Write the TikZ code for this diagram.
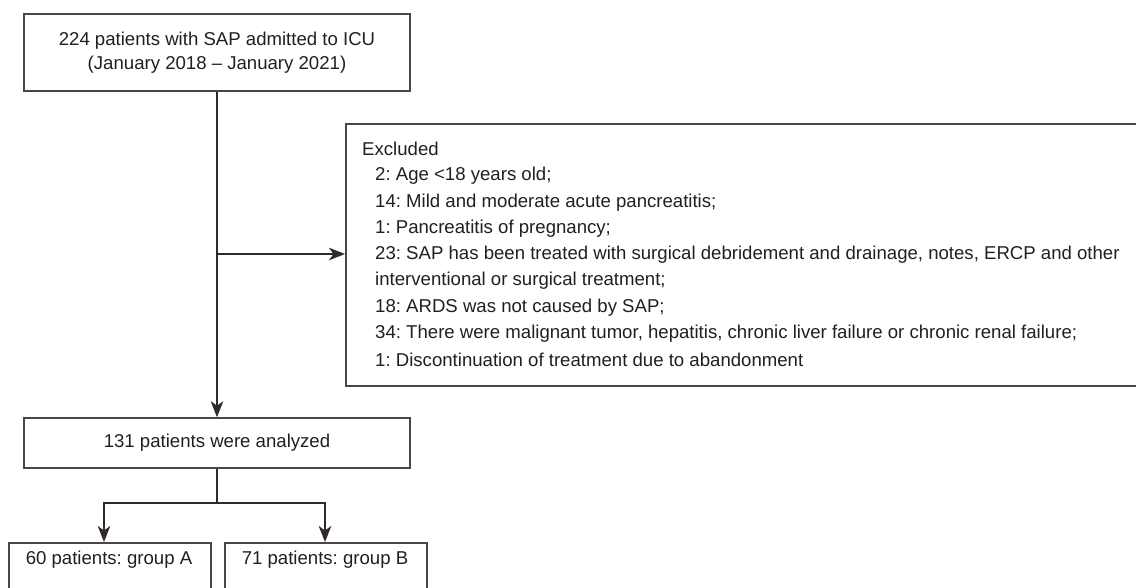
\documentclass[tikz,border=0pt]{standalone}
\usepackage{fontspec}
\setmainfont{Liberation Sans}
\usetikzlibrary{arrows.meta}
\definecolor{ln}{HTML}{302B2A}
\definecolor{bx}{HTML}{4A4645}
\definecolor{tx}{HTML}{231F20}
\frenchspacing
\begin{document}
\begin{tikzpicture}[x=1pt,y=-1pt,
  box/.style={draw=bx, line width=1.5pt, inner sep=0pt, text=tx, font=\fontsize{18.6}{23.5}\selectfont, align=center},
  conn/.style={draw=ln, line width=1.5pt},
  arr/.style={conn, -{Stealth[length=16pt,width=12.5pt,inset=4.5pt]}},
  txt/.style={text=tx, font=\fontsize{18.6}{23.5}\selectfont, inner sep=0pt}]
\useasboundingbox (0,0) rectangle (1136,587);
\fill[white] (0,0) rectangle (1136,587);
\clip (0,0) rectangle (1136,587);
% boxes
\node[box, minimum width=386, minimum height=77] (top) at (217,52.5) {224 patients with SAP admitted to ICU\\(January 2018 – January 2021)};
\node[box, minimum width=800, minimum height=262, anchor=north west] (excl) at (345,123) {};
\node[box, minimum width=386, minimum height=50] (ana) at (217,443) {131 patients were analyzed};
\node[box, minimum width=202, minimum height=62, anchor=north west] (ga) at (8,542) {};
\node[box, minimum width=202, minimum height=62, anchor=north west] (gb) at (224,542) {};
\node[txt] (gat) at (109,560) {60 patients: group A};
\node[txt] (gbt) at (325,560) {71 patients: group B};
% excluded text
\foreach \i/\x/\y/\t in {
  1/362/149/{Excluded},
  2/375/176/{2: Age <18 years old;},
  3/375/202.5/{14: Mild and moderate acute pancreatitis;},
  4/375/229/{1: Pancreatitis of pregnancy;},
  5/375/255/{23: SAP has been treated with surgical debridement and drainage, notes, ERCP and other},
  6/375/281/{interventional or surgical treatment;},
  7/375/308/{18: ARDS was not caused by SAP;},
  8/375/334/{34: There were malignant tumor, hepatitis, chronic liver failure or chronic renal failure;},
  9/375/360/{1: Discontinuation of treatment due to abandonment}}
  \node[txt, anchor=west] (l\i) at (\x,\y) {\t};
% connectors
\coordinate (j) at (217,254);
\coordinate (br) at (217,503);
\coordinate (ta) at (104,542);
\coordinate (tb) at (325,542);
\draw[arr] (top.south) -- (ana.north);
\draw[arr] (j) -- (j -| excl.west);
\draw[conn] (ana.south) -- (br);
\draw[arr] (br) -| (ta);
\draw[arr] (br) -| (tb);
\end{tikzpicture}
\end{document}
